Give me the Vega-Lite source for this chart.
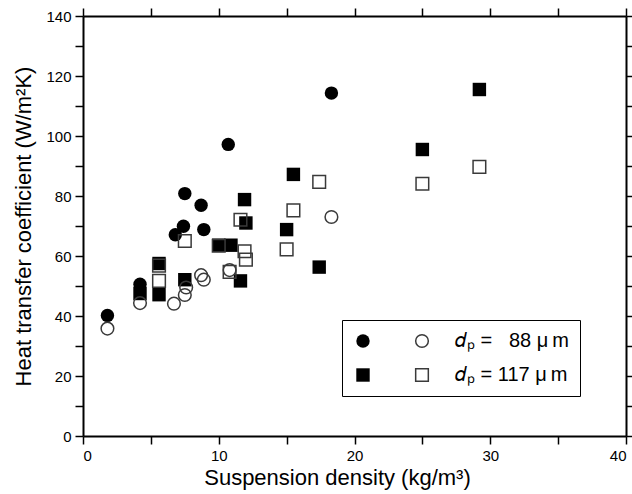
{
  "$schema": "https://vega.github.io/schema/vega-lite/v6.json",
  "width": 543,
  "height": 420,
  "autosize": {"type": "none"},
  "padding": {"left": 83, "top": 16, "right": 6, "bottom": 58},
  "background": "white",
  "view": {"stroke": null},
  "config": {
    "font": "Liberation Sans",
    "axis": {
      "labelFont": "Liberation Sans",
      "labelColor": "black",
      "labelFontSize": 15,
      "titleFont": "Liberation Sans",
      "titleFontSize": 22,
      "titleFontWeight": "normal",
      "titleColor": "black",
      "domainColor": "black",
      "domainWidth": 2,
      "tickColor": "black",
      "tickWidth": 1.5,
      "grid": false
    }
  },
  "data": {
    "values": [
      {"dp": "88", "kind": "filled", "density": 1.8, "h": 40.2},
      {"dp": "88", "kind": "filled", "density": 4.2, "h": 50.6},
      {"dp": "88", "kind": "filled", "density": 6.8, "h": 67.1},
      {"dp": "88", "kind": "filled", "density": 7.4, "h": 69.9},
      {"dp": "88", "kind": "filled", "density": 7.5, "h": 80.8},
      {"dp": "88", "kind": "filled", "density": 8.7, "h": 76.9},
      {"dp": "88", "kind": "filled", "density": 8.9, "h": 68.8},
      {"dp": "88", "kind": "filled", "density": 10.7, "h": 97.2},
      {"dp": "88", "kind": "filled", "density": 18.3, "h": 114.3},
      {"dp": "88", "kind": "open", "density": 1.8, "h": 35.8},
      {"dp": "88", "kind": "open", "density": 4.2, "h": 44.3},
      {"dp": "88", "kind": "open", "density": 6.7, "h": 44.1},
      {"dp": "88", "kind": "open", "density": 7.5, "h": 47.0},
      {"dp": "88", "kind": "open", "density": 7.6, "h": 49.5},
      {"dp": "88", "kind": "open", "density": 8.7, "h": 53.6},
      {"dp": "88", "kind": "open", "density": 8.9, "h": 52.1},
      {"dp": "88", "kind": "open", "density": 10.8, "h": 55.3},
      {"dp": "88", "kind": "open", "density": 18.3, "h": 73.0},
      {"dp": "117", "kind": "filled", "density": 4.2, "h": 47.5},
      {"dp": "117", "kind": "filled", "density": 5.6, "h": 47.1},
      {"dp": "117", "kind": "filled", "density": 5.6, "h": 57.5},
      {"dp": "117", "kind": "filled", "density": 7.5, "h": 52.1},
      {"dp": "117", "kind": "filled", "density": 10.0, "h": 63.6},
      {"dp": "117", "kind": "filled", "density": 10.9, "h": 63.6},
      {"dp": "117", "kind": "filled", "density": 11.6, "h": 51.7},
      {"dp": "117", "kind": "filled", "density": 11.9, "h": 78.8},
      {"dp": "117", "kind": "filled", "density": 12.0, "h": 71.0},
      {"dp": "117", "kind": "filled", "density": 15.0, "h": 68.8},
      {"dp": "117", "kind": "filled", "density": 15.5, "h": 87.2},
      {"dp": "117", "kind": "filled", "density": 17.4, "h": 56.3},
      {"dp": "117", "kind": "filled", "density": 25.0, "h": 95.5},
      {"dp": "117", "kind": "filled", "density": 29.2, "h": 115.5},
      {"dp": "117", "kind": "open", "density": 5.6, "h": 51.7},
      {"dp": "117", "kind": "open", "density": 5.6, "h": 56.8},
      {"dp": "117", "kind": "open", "density": 7.5, "h": 65.0},
      {"dp": "117", "kind": "open", "density": 10.0, "h": 63.4},
      {"dp": "117", "kind": "open", "density": 10.8, "h": 54.7},
      {"dp": "117", "kind": "open", "density": 11.6, "h": 72.1},
      {"dp": "117", "kind": "open", "density": 11.9, "h": 61.6},
      {"dp": "117", "kind": "open", "density": 12.0, "h": 58.8},
      {"dp": "117", "kind": "open", "density": 15.0, "h": 62.2},
      {"dp": "117", "kind": "open", "density": 15.5, "h": 75.2},
      {"dp": "117", "kind": "open", "density": 17.4, "h": 84.7},
      {"dp": "117", "kind": "open", "density": 25.0, "h": 84.1},
      {"dp": "117", "kind": "open", "density": 29.2, "h": 89.7}
    ]
  },
  "layer": [
    {
      "transform": [{"filter": "datum.kind === 'filled'"}],
      "mark": {"type": "point", "filled": true, "color": "black", "opacity": 1, "size": 180, "strokeWidth": 0},
      "encoding": {
        "x": {
          "field": "density", "type": "quantitative",
          "scale": {"domain": [0, 40], "nice": false, "zero": false},
          "axis": {
            "orient": "bottom",
            "title": "Suspension density (kg/m³)",
            "values": [0, 5, 10, 15, 20, 25, 30, 35, 40],
            "labelExpr": "datum.value % 10 === 0 ? datum.label : ''",
            "tickSize": 8,
            "labelPadding": 4,
            "titlePadding": 4,
            "titleX": 254,
            "titleAlign": "center",
            "encode": {"ticks": {"update": {"y2": {"signal": "datum.value % 10 === 0 ? -8 : -4"}}}}
          }
        },
        "y": {
          "field": "h", "type": "quantitative",
          "scale": {"domain": [0, 140], "nice": false},
          "axis": {
            "orient": "left",
            "title": "Heat transfer coefficient (W/m²K)",
            "values": [0, 10, 20, 30, 40, 50, 60, 70, 80, 90, 100, 110, 120, 130, 140],
            "labelExpr": "datum.value % 20 === 0 ? datum.label : ''",
            "tickSize": 8,
            "labelPadding": 4,
            "titlePadding": 10,
            "encode": {"ticks": {"update": {"x2": {"signal": "datum.value % 20 === 0 ? 8 : 4"}}}}
          }
        },
        "shape": {
          "field": "dp", "type": "nominal",
          "scale": {"domain": ["88", "117"], "range": ["circle", "square"]},
          "legend": {
            "orient": "none",
            "legendX": 259,
            "legendY": 304,
            "title": null,
            "strokeColor": "black",
            "padding": 11,
            "labelOffset": 82,
            "labelFont": "Liberation Sans",
            "labelFontSize": 20,
            "labelColor": "black",
            "symbolFillColor": "black",
            "symbolStrokeColor": "black",
            "symbolStrokeWidth": 0,
            "symbolSize": 180,
            "rowPadding": 14,
            "labelExpr": "datum.value === '88' ? '𝑑ₚ = \u200788 μ\u2009m\u2007' : '𝑑ₚ = 117 μ\u2009m\u2007'"
          }
        }
      }
    },
    {
      "transform": [{"filter": "datum.kind === 'open'"}],
      "mark": {"type": "point", "filled": false, "color": "#3a3a3a", "opacity": 1, "size": 160, "strokeWidth": 1.5},
      "encoding": {
        "x": {
          "field": "density", "type": "quantitative",
          "axis": {
            "orient": "top",
            "title": null,
            "labels": false,
            "values": [0, 5, 10, 15, 20, 25, 30, 35, 40],
            "tickSize": 8,
            "encode": {"ticks": {"update": {"y2": {"signal": "datum.value % 10 === 0 ? 8 : 4"}}}}
          }
        },
        "y": {
          "field": "h", "type": "quantitative",
          "axis": {
            "orient": "right",
            "title": null,
            "labels": false,
            "values": [0, 10, 20, 30, 40, 50, 60, 70, 80, 90, 100, 110, 120, 130, 140],
            "tickSize": 8,
            "encode": {"ticks": {"update": {"x2": {"signal": "datum.value % 20 === 0 ? -8 : -4"}}}}
          }
        },
        "shape": {
          "field": "dp", "type": "nominal",
          "legend": {
            "orient": "none",
            "legendX": 318,
            "legendY": 304,
            "title": null,
            "padding": 11,
            "labelFontSize": 20,
            "labelExpr": "''",
            "symbolFillColor": "transparent",
            "symbolStrokeColor": "#3a3a3a",
            "symbolStrokeWidth": 1.5,
            "symbolSize": 160,
            "rowPadding": 14
          }
        }
      }
    }
  ],
  "resolve": {
    "axis": {"x": "independent", "y": "independent"},
    "legend": {"shape": "independent"}
  }
}
